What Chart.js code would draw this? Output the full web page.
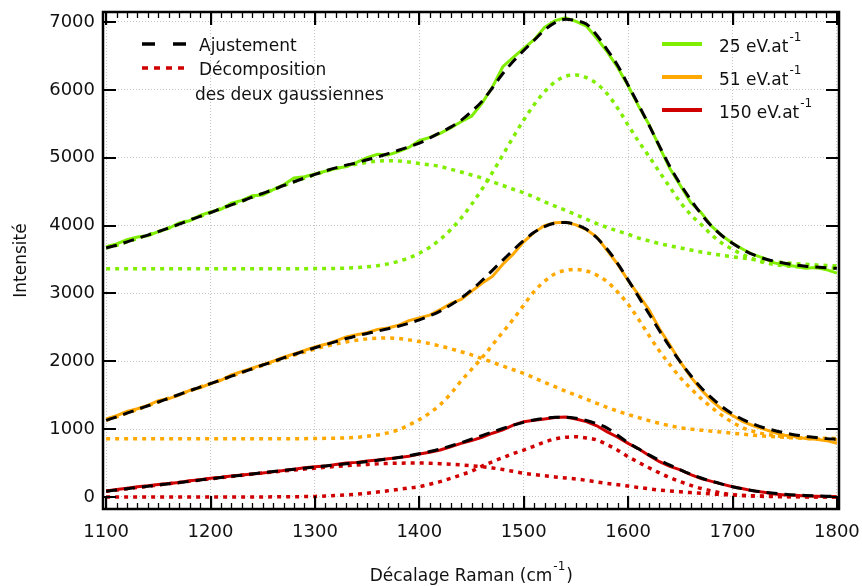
<!DOCTYPE html>
<html lang="fr">
<head>
<meta charset="utf-8">
<title>Spectres Raman</title>
<script src="https://cdn.jsdelivr.net/npm/chart.js@4.4.1/dist/chart.umd.min.js"></script>
<style>
    html, body { margin: 0; padding: 0; background: #fff; }
</style>
</head>
<body>
<canvas id="ramanChart" width="862" height="587"></canvas>
<script>
// Données (pas de 10 cm-1)
const ramanShift = [
    1100, 1110, 1120, 1130, 1140, 1150, 1160, 1170, 1180, 1190,
    1200, 1210, 1220, 1230, 1240, 1250, 1260, 1270, 1280, 1290,
    1300, 1310, 1320, 1330, 1340, 1350, 1360, 1370, 1380, 1390,
    1400, 1410, 1420, 1430, 1440, 1450, 1460, 1470, 1480, 1490,
    1500, 1510, 1520, 1530, 1540, 1550, 1560, 1570, 1580, 1590,
    1600, 1610, 1620, 1630, 1640, 1650, 1660, 1670, 1680, 1690,
    1700, 1710, 1720, 1730, 1740, 1750, 1760, 1770, 1780, 1790,
    1800
];

// 25 eV.at-1
const spectre25 = [
    3690, 3730, 3790, 3830, 3850, 3910, 3960, 4040, 4070, 4150,
    4200, 4240, 4330, 4370, 4440, 4450, 4530, 4600, 4700, 4720,
    4760, 4800, 4840, 4870, 4930, 5000, 5050, 5040, 5090, 5150,
    5250, 5300, 5360, 5440, 5530, 5610, 5800, 6040, 6340, 6480,
    6610, 6740, 6920, 7020, 7060, 7010, 6940, 6760, 6560, 6330,
    6060, 5760, 5490, 5160, 4840, 4590, 4340, 4190, 3990, 3850,
    3740, 3650, 3570, 3520, 3450, 3420, 3400, 3370, 3380, 3350,
    3300
];
const ajust25 = [
    3670, 3710, 3760, 3810, 3860, 3910, 3965, 4020, 4080, 4135,
    4190, 4250, 4305, 4360, 4420, 4475, 4530, 4590, 4645, 4700,
    4753, 4805, 4850, 4890, 4925, 4970, 5010, 5060, 5110, 5160,
    5214, 5290, 5370, 5450, 5550, 5680, 5830, 6030, 6240, 6420,
    6580, 6730, 6880, 6990, 7040, 7020, 6970, 6805, 6590, 6360,
    6070, 5780, 5480, 5170, 4870, 4610, 4380, 4170, 3990, 3850,
    3740, 3645, 3570, 3515, 3475, 3445, 3420, 3400, 3388, 3378,
    3370
];
const gaussLarge25 = [
    3670, 3710, 3760, 3810, 3860, 3910, 3965, 4020, 4080, 4135,
    4190, 4250, 4305, 4360, 4420, 4475, 4530, 4590, 4645, 4700,
    4750, 4800, 4840, 4875, 4905, 4930, 4950, 4955, 4950, 4935,
    4915, 4895, 4870, 4830, 4790, 4745, 4700, 4645, 4590, 4535,
    4483, 4420, 4350, 4285, 4225, 4160, 4095, 4030, 3972, 3920,
    3870, 3815, 3775, 3735, 3700, 3670, 3640, 3610, 3585, 3560,
    3540, 3520, 3500, 3482, 3466, 3452, 3440, 3430, 3420, 3412,
    3405
];
const gaussEtroite25 = [
    3365, 3365, 3365, 3365, 3365, 3365, 3365, 3365, 3365, 3365,
    3365, 3365, 3365, 3365, 3365, 3365, 3365, 3365, 3365, 3365,
    3366, 3367, 3369, 3373, 3380, 3392, 3409, 3435, 3472, 3523,
    3592, 3681, 3796, 3938, 4110, 4310, 4536, 4782, 5042, 5304,
    5556, 5782, 5974, 6116, 6200, 6219, 6180, 6090, 5940, 5730,
    5480, 5240, 5020, 4790, 4565, 4345, 4160, 4015, 3862, 3740,
    3650, 3570, 3505, 3455, 3425, 3405, 3395, 3385, 3380, 3375,
    3372
];

// 51 eV.at-1
const spectre51 = [
    1150, 1200, 1260, 1300, 1350, 1420, 1450, 1500, 1570, 1610,
    1670, 1720, 1800, 1850, 1900, 1950, 2000, 2060, 2110, 2160,
    2210, 2250, 2300, 2360, 2390, 2420, 2470, 2490, 2530, 2600,
    2640, 2680, 2760, 2850, 2910, 3030, 3150, 3250, 3430, 3580,
    3760, 3900, 4000, 4040, 4050, 4010, 3940, 3830, 3630, 3430,
    3190, 2980, 2760, 2480, 2240, 1990, 1770, 1580, 1420, 1290,
    1200, 1110, 1050, 1000, 950, 910, 890, 860, 850, 830,
    790
];
const ajust51 = [
    1130, 1180, 1235, 1290, 1345, 1400, 1455, 1510, 1565, 1620,
    1670, 1725, 1780, 1835, 1890, 1945, 1995, 2050, 2100, 2150,
    2200, 2245, 2290, 2335, 2375, 2410, 2445, 2480, 2515, 2560,
    2610, 2670, 2740, 2830, 2930, 3050, 3190, 3340, 3490, 3640,
    3780, 3900, 3985, 4035, 4045, 4015, 3945, 3820, 3650, 3440,
    3200, 2950, 2700, 2450, 2210, 1990, 1790, 1610, 1460, 1330,
    1225, 1140, 1075, 1020, 980, 945, 915, 895, 875, 860,
    850
];
const gaussLarge51 = [
    1130, 1180, 1235, 1290, 1345, 1400, 1455, 1510, 1565, 1620,
    1670, 1725, 1780, 1835, 1890, 1940, 1990, 2040, 2090, 2135,
    2180, 2220, 2255, 2285, 2310, 2330, 2340, 2345, 2335, 2315,
    2290, 2260, 2225, 2185, 2140, 2095, 2040, 1985, 1930, 1875,
    1822, 1755, 1690, 1625, 1560, 1500, 1440, 1380, 1320, 1265,
    1215, 1170, 1125, 1085, 1050, 1020, 1000, 985, 970, 955,
    940, 925, 910, 898, 888, 878, 870, 862, 855, 848,
    842
];
const gaussEtroite51 = [
    860, 860, 860, 860, 860, 860, 860, 860, 860, 860,
    860, 860, 860, 860, 860, 860, 860, 860, 860, 860,
    862, 864, 867, 872, 880, 895, 915, 945, 990, 1060,
    1140, 1240, 1360, 1520, 1710, 1880, 2050, 2240, 2430, 2620,
    2828, 3030, 3180, 3290, 3340, 3354, 3330, 3270, 3170, 3020,
    2840, 2620, 2380, 2150, 1950, 1760, 1600, 1450, 1320, 1200,
    1100, 1020, 965, 930, 905, 888, 878, 872, 868, 865,
    863
];

// 150 eV.at-1
const spectre150 = [
    90, 110, 130, 150, 165, 185, 200, 215, 240, 255,
    275, 290, 310, 325, 340, 355, 370, 390, 410, 430,
    446, 455, 480, 500, 510, 530, 545, 565, 580, 600,
    633, 660, 692, 740, 790, 830, 880, 940, 990, 1060,
    1110, 1130, 1150, 1170, 1180, 1150, 1110, 1050, 960, 880,
    790, 710, 610, 520, 450, 400, 330, 270, 230, 190,
    150, 120, 90, 70, 45, 30, 25, 15, 10, 8,
    5
];
const ajust150 = [
    85, 103, 122, 140, 158, 177, 195, 213, 232, 250,
    268, 287, 305, 322, 340, 357, 374, 391, 408, 425,
    442, 458, 474, 490, 506, 523, 540, 560, 582, 607,
    636, 670, 708, 752, 800, 852, 905, 958, 1010, 1058,
    1100, 1135, 1160, 1175, 1176, 1160, 1128, 1080, 1015, 910,
    800, 710, 620, 540, 470, 400, 335, 280, 232, 190,
    152, 120, 93, 72, 55, 41, 30, 22, 16, 11,
    8
];
const gaussLarge150 = [
    85, 103, 122, 140, 158, 177, 195, 213, 232, 250,
    268, 286, 303, 320, 337, 353, 369, 384, 398, 412,
    425, 438, 450, 461, 471, 480, 488, 494, 498, 500,
    500, 497, 490, 482, 472, 460, 446, 428, 405, 378,
    350, 330, 312, 295, 280, 265, 245, 222, 200, 180,
    162, 140, 120, 102, 88, 76, 65, 55, 45, 36,
    29, 23, 18, 14, 11, 9, 7, 5, 4, 3,
    3
];
const gaussEtroite150 = [
    0, 0, 0, 0, 0, 0, 0, 0, 0, 0,
    0, 0, 0, 0, 0, 1, 2, 3, 4, 6,
    8, 15, 22, 30, 42, 55, 72, 92, 112, 132,
    152, 188, 226, 275, 325, 380, 455, 520, 580, 640,
    692, 750, 810, 855, 880, 888, 870, 840, 770, 690,
    594, 510, 430, 355, 285, 226, 170, 125, 90, 55,
    35, 22, 14, 9, 6, 4, 3, 2, 1, 1,
    0
];

// Graduations et textes
const xTicks = [1100, 1200, 1300, 1400, 1500, 1600, 1700, 1800];
const yTicks = [0, 1000, 2000, 3000, 4000, 5000, 6000, 7000];
const seriesLabels = ['25 eV.at', '51 eV.at', '150 eV.at'];
const fitLabels = ['Ajustement', 'Décomposition', 'des deux gaussiennes'];
const xTitle = 'Décalage Raman (cm';
const yTitle = 'Intensité';

const colors = ['#80ee00', '#ffa800', '#d00000'];
const FONT = 'DejaVu Sans';

// Transforme un tableau de valeurs en points {x, y}
function toPoints(values) {
    return values.map((v, i) => ({ x: ramanShift[i], y: v }));
}

function spectrumDataset(values, color) {
    return {
        data: toPoints(values),
        borderColor: color,
        borderWidth: 3,
        pointRadius: 0,
        tension: 0,
        order: 3
    };
}

function gaussDataset(values, color) {
    return {
        data: toPoints(values),
        borderColor: color,
        borderWidth: 3.5,
        borderDash: [4, 5],
        pointRadius: 0,
        cubicInterpolationMode: 'monotone',
        order: 2
    };
}

function fitDataset(values) {
    return {
        data: toPoints(values),
        borderColor: '#000',
        borderWidth: 3,
        borderDash: [11, 7],
        pointRadius: 0,
        cubicInterpolationMode: 'monotone',
        order: 1
    };
}

// texte avec exposant "-1"
function drawWithSup(ctx, text, x, y, size) {
    ctx.font = size + 'px "' + FONT + '"';
    ctx.fillText(text, x, y);
    const w = ctx.measureText(text).width;
    ctx.font = Math.round(size * 0.72) + 'px "' + FONT + '"';
    ctx.fillText('-1', x + w + 1, y - size * 0.62);
    return w + 1 + ctx.measureText('-1').width;
}

// pas de marge supplémentaire pour les étiquettes qui débordent
function noLabelPadding(scale) {
    scale.paddingTop = 0;
    scale.paddingBottom = 0;
    scale.paddingLeft = 0;
    scale.paddingRight = 0;
}

// Cadre, graduations intérieures, légendes et titre de l'axe X
const framePlugin = {
    id: 'framePlugin',
    afterDatasetsDraw(chart) {
        const ctx = chart.ctx;
        const a = chart.chartArea;
        const xs = chart.scales.x;
        const ys = chart.scales.y;
        ctx.save();
        ctx.strokeStyle = '#000';
        ctx.setLineDash([]);

        // graduations secondaires en X (tous les 10)
        ctx.lineWidth = 1.3;
        ctx.beginPath();
        for (let v = 1100; v <= 1800; v += 10) {
            const px = Math.round(xs.getPixelForValue(v)) + 0.5;
            const len = v % 100 === 0 ? 13 : 6;
            ctx.moveTo(px, a.bottom); ctx.lineTo(px, a.bottom - len);
            ctx.moveTo(px, a.top); ctx.lineTo(px, a.top + len);
        }
        ctx.stroke();
        // graduations principales
        ctx.lineWidth = 2;
        ctx.beginPath();
        xTicks.forEach(v => {
            const px = Math.round(xs.getPixelForValue(v));
            ctx.moveTo(px, a.bottom); ctx.lineTo(px, a.bottom - 13);
            ctx.moveTo(px, a.top); ctx.lineTo(px, a.top + 13);
        });
        yTicks.forEach(v => {
            const py = Math.round(ys.getPixelForValue(v));
            ctx.moveTo(a.left, py); ctx.lineTo(a.left + 13, py);
            ctx.moveTo(a.right, py); ctx.lineTo(a.right - 13, py);
        });
        ctx.stroke();

        // cadre
        ctx.lineWidth = 2.5;
        ctx.strokeRect(a.left, a.top, a.right - a.left, a.bottom - a.top);

        // légende de gauche
        ctx.fillStyle = '#111';
        ctx.textBaseline = 'alphabetic';
        ctx.textAlign = 'left';
        ctx.lineWidth = 3.5;
        ctx.setLineDash([13, 18]);
        ctx.beginPath(); ctx.moveTo(142, 44); ctx.lineTo(188, 44); ctx.stroke();
        ctx.strokeStyle = colors[2];
        ctx.lineWidth = 3.5;
        ctx.setLineDash([6, 6]);
        ctx.beginPath(); ctx.moveTo(142, 68); ctx.lineTo(188, 68); ctx.stroke();
        ctx.setLineDash([]);
        ctx.font = '17px "' + FONT + '"';
        ctx.fillText(fitLabels[0], 199, 51);
        ctx.fillText(fitLabels[1], 199, 75);
        ctx.fillText(fitLabels[2], 195, 100);

        // légende de droite
        seriesLabels.forEach((label, i) => {
            const yy = 44 + i * 33;
            ctx.strokeStyle = colors[i];
            ctx.lineWidth = 4;
            ctx.beginPath(); ctx.moveTo(662, yy); ctx.lineTo(702, yy); ctx.stroke();
            ctx.fillStyle = '#111';
            drawWithSup(ctx, label, 719, yy + 7.5, 17);
        });

        // titre de l'axe X
        const size = 17;
        ctx.font = size + 'px "' + FONT + '"';
        const tw = ctx.measureText(xTitle).width;
        ctx.font = '12px "' + FONT + '"';
        const total = tw + ctx.measureText('-1').width + 2 + 6;
        const x0 = (a.left + a.right) / 2 - total / 2;
        const w = drawWithSup(ctx, xTitle, x0, 581, size);
        ctx.font = size + 'px "' + FONT + '"';
        ctx.fillText(')', x0 + w + 1, 581);
        ctx.restore();
    }
};

new Chart(document.getElementById('ramanChart'), {
    type: 'line',
    data: {
        datasets: [
            fitDataset(ajust25),
            fitDataset(ajust51),
            fitDataset(ajust150),
            gaussDataset(gaussLarge25, colors[0]),
            gaussDataset(gaussEtroite25, colors[0]),
            gaussDataset(gaussLarge51, colors[1]),
            gaussDataset(gaussEtroite51, colors[1]),
            gaussDataset(gaussLarge150, colors[2]),
            gaussDataset(gaussEtroite150, colors[2]),
            spectrumDataset(spectre25, colors[0]),
            spectrumDataset(spectre51, colors[1]),
            spectrumDataset(spectre150, colors[2])
        ]
    },
    options: {
        responsive: false,
        animation: false,
        layout: { padding: { left: 0, right: 23, top: 12, bottom: 0 } },
        plugins: {
            legend: { display: false },
            tooltip: { enabled: false }
        },
        scales: {
            x: {
                type: 'linear',
                min: 1097,
                max: 1802,
                afterBuildTicks: scale => { scale.ticks = xTicks.map(v => ({ value: v })); },
                afterFit: scale => { scale.height = 78; noLabelPadding(scale); },
                grid: { color: '#c4c4c4', lineWidth: 1, drawTicks: false },
                border: { display: false, dash: [1, 2] },
                ticks: {
                    padding: 13,
                    color: '#111',
                    font: { family: FONT, size: 18 },
                    callback: v => String(v)
                }
            },
            y: {
                min: -177,
                max: 7147,
                afterBuildTicks: scale => { scale.ticks = yTicks.map(v => ({ value: v })); },
                afterFit: scale => { scale.width = 103; noLabelPadding(scale); },
                grid: { color: '#c4c4c4', lineWidth: 1, drawTicks: false },
                border: { display: false, dash: [1, 2] },
                ticks: {
                    padding: 8,
                    color: '#111',
                    font: { family: FONT, size: 18 },
                    callback: v => String(v)
                },
                title: {
                    display: true,
                    text: yTitle,
                    color: '#111',
                    font: { family: FONT, size: 17 },
                    padding: { top: 11, bottom: 0 }
                }
            }
        }
    },
    plugins: [framePlugin]
});
</script>
</body>
</html>
